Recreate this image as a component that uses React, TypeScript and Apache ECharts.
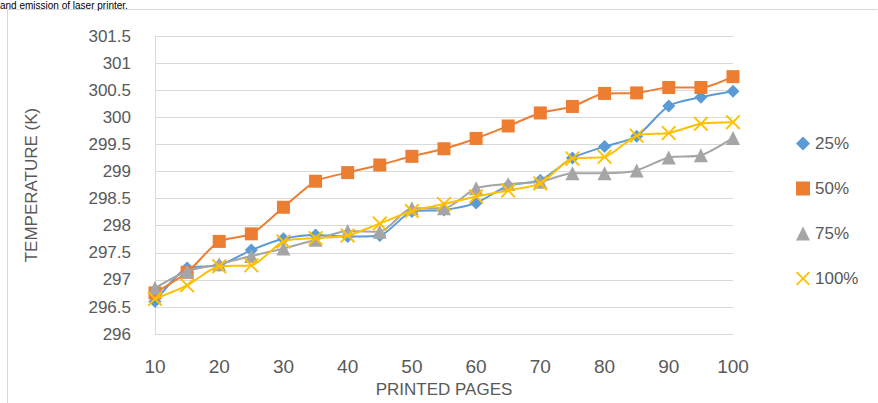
import React, { useEffect, useRef } from "react";
import * as echarts from "echarts";

const pages = [10, 15, 20, 25, 30, 35, 40, 45, 50, 55, 60, 65, 70, 75, 80, 85, 90, 95, 100];
const s25 = [296.6, 297.22, 297.27, 297.55, 297.76, 297.83, 297.8, 297.82, 298.26, 298.29, 298.42, 298.74, 298.84, 299.25, 299.46, 299.65, 300.21, 300.37, 300.48];
const s50 = [296.76, 297.14, 297.71, 297.85, 298.34, 298.82, 298.98, 299.12, 299.28, 299.42, 299.61, 299.84, 300.08, 300.2, 300.44, 300.45, 300.55, 300.55, 300.75];
const s75 = [296.85, 297.16, 297.29, 297.44, 297.58, 297.74, 297.9, 297.89, 298.32, 298.32, 298.69, 298.77, 298.81, 298.97, 298.97, 299.02, 299.26, 299.3, 299.62];
const s100 = [296.65, 296.9, 297.25, 297.27, 297.71, 297.77, 297.82, 298.04, 298.27, 298.4, 298.54, 298.65, 298.78, 299.24, 299.27, 299.66, 299.71, 299.88, 299.91];
const seriesNames = ["25%", "50%", "75%", "100%"];
const colors = ["#5B9BD5", "#ED7D31", "#A5A5A5", "#FFC000"];
const titleText = "and emission of laser printer.";
const xName = "PRINTED PAGES";
const yName = "TEMPERATURE (K)";

const X_PATH =
  "path://M0,0.9L0.9,0L5,4.1L9.1,0L10,0.9L5.9,5L10,9.1L9.1,10L5,5.9L0.9,10L0,9.1L4.1,5Z";
const symbols = ["diamond", "rect", "triangle", X_PATH];
const symbolSizes = [13, 13, 14, 15];

const FONT = "'Liberation Sans Narrow', 'Liberation Sans', Roboto, sans-serif";

export default function App() {
  const ref = useRef<HTMLDivElement>(null);
  useEffect(() => {
    if (!ref.current) return;
    const chart = echarts.init(ref.current, undefined, { renderer: "svg" });
    const all = [s25, s50, s75, s100];
    chart.setOption({
      animation: false,
      backgroundColor: "#ffffff",
      textStyle: { fontFamily: FONT },
      graphic: [
        {
          type: "line",
          shape: { x1: 7.5, y1: 9.5, x2: 877.5, y2: 9.5 },
          style: { stroke: "#d9d9d9", lineWidth: 1 },
        },
        {
          type: "line",
          shape: { x1: 7.5, y1: 9.5, x2: 7.5, y2: 403 },
          style: { stroke: "#d9d9d9", lineWidth: 1 },
        },
        {
          type: "text",
          left: 0,
          top: 0,
          style: {
            text: titleText,
            fontSize: 10,
            fontFamily: FONT,
            fill: "#000000",
          },
        },
      ],
      grid: { left: 155, right: 145, top: 36, bottom: 64 },
      legend: {
        orient: "vertical",
        left: 791,
        top: 130,
        itemWidth: 14,
        itemHeight: 14,
        itemGap: 28,
        textStyle: { fontSize: 17, color: "#595959", fontFamily: FONT },
        data: seriesNames.map((n, i) => ({
          name: n,
          icon: symbols[i],
          itemStyle: { color: colors[i] },
        })),
      },
      xAxis: {
        type: "value",
        min: 10,
        max: 100,
        interval: 10,
        name: xName,
        nameLocation: "middle",
        nameGap: 44,
        nameTextStyle: { fontSize: 17, color: "#595959", fontFamily: FONT },
        axisLine: { show: true, lineStyle: { color: "#d9d9d9" } },
        axisTick: { show: false },
        splitLine: { show: false },
        axisLabel: { fontSize: 19, color: "#595959", margin: 23, fontFamily: FONT },
      },
      yAxis: {
        type: "value",
        min: 296,
        max: 301.5,
        interval: 0.5,
        name: yName,
        nameLocation: "middle",
        nameGap: 115,
        nameTextStyle: { fontSize: 17, color: "#595959", fontFamily: FONT },
        axisLine: { show: true, lineStyle: { color: "#d9d9d9" } },
        axisTick: { show: false },
        splitLine: { show: true, lineStyle: { color: "#d9d9d9", width: 1 } },
        axisLabel: { fontSize: 17, color: "#595959", margin: 24, fontFamily: FONT },
      },
      series: all.map((vals, i) => ({
        name: seriesNames[i],
        type: "line",
        data: pages.map((p, j) => [p, vals[j]]),
        smooth: 0.25,
        symbol: symbols[i],
        symbolSize: symbolSizes[i],
        itemStyle: { color: colors[i] },
        lineStyle: { color: colors[i], width: 2 },
        z: 2 + i,
      })),
    });
    return () => chart.dispose();
  }, []);
  return (
    <div
      ref={ref}
      style={{ position: "fixed", left: 0, top: 0, width: 878, height: 403 }}
    />
  );
}
